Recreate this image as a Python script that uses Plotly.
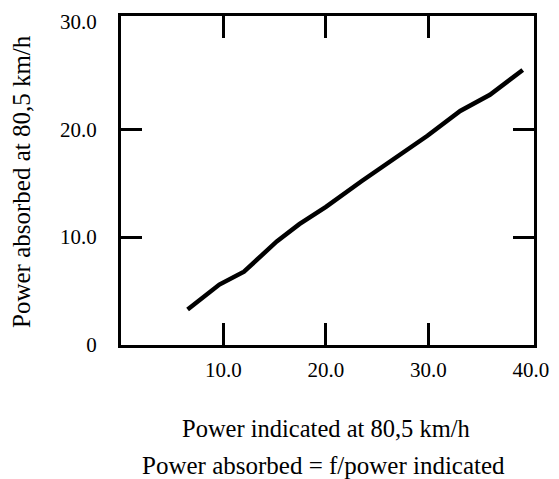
import plotly.graph_objects as go

# Data
power_indicated = [6.5, 9.6, 12.0, 15.2, 17.4, 20.0, 23.5, 26.7, 29.9, 33.1, 36.0, 39.2]
power_absorbed = [3.3, 5.6, 6.8, 9.6, 11.2, 12.8, 15.2, 17.3, 19.4, 21.7, 23.2, 25.5]

x_label_vals = [10, 20, 30, 40]
x_label_text = ["10.0", "20.0", "30.0", "40.0"]
y_label_vals = [0, 10, 20, 30]
y_label_text = ["0", "10.0", "20.0", "30.0"]
x_tick_vals = [10, 20, 30]
y_tick_vals = [10, 20]

x_title = "Power indicated at 80,5 km/h"
y_title = "Power absorbed at 80,5 km/h"
caption = "Power absorbed = f/power indicated"

FONT = "Liberation Serif"
XR = [0, 40.3]
YR = [0, 30.5]

fig = go.Figure()
fig.add_trace(go.Scatter(
    x=power_indicated, y=power_absorbed, mode="lines",
    line=dict(color="black", width=4.5), showlegend=False, hoverinfo="skip",
))
# invisible trace on the tick-only axes
fig.add_trace(go.Scatter(x=[None], y=[None], xaxis="x2", yaxis="y2",
                         showlegend=False, hoverinfo="skip"))

tick_font = dict(family=FONT, size=21, color="black")
xtitle_font = dict(family=FONT, size=24.5, color="black")
ytitle_font = dict(family=FONT, size=25, color="black")
caption_font = dict(family=FONT, size=25, color="black")

fig.update_layout(
    width=559, height=479,
    margin=dict(l=121, r=18, t=10, b=134),
    paper_bgcolor="white", plot_bgcolor="white",
    font=tick_font,
    xaxis=dict(
        range=XR, tickvals=x_label_vals, ticktext=x_label_text,
        ticks="", showgrid=False, zeroline=False,
        showline=True, linecolor="black", linewidth=3, mirror=True,
        ticklabelstandoff=4, tickfont=tick_font,
    ),
    yaxis=dict(
        range=YR, tickvals=y_label_vals, ticktext=y_label_text,
        ticks="", showgrid=False, zeroline=False,
        showline=True, linecolor="black", linewidth=3, mirror=True,
        ticklabelstandoff=17, tickfont=tick_font,
    ),
    xaxis2=dict(
        range=XR, overlaying="x", tickvals=x_tick_vals, showticklabels=False,
        ticks="inside", ticklen=22, tickwidth=3, tickcolor="black", mirror="ticks",
        showline=False, showgrid=False, zeroline=False, anchor="y2",
    ),
    yaxis2=dict(
        range=YR, overlaying="y", tickvals=y_tick_vals, showticklabels=False,
        ticks="inside", ticklen=21, tickwidth=3, tickcolor="black", mirror="ticks",
        showline=False, showgrid=False, zeroline=False, anchor="x2",
    ),
    annotations=[
        dict(text=x_title, xref="paper", yref="paper", x=0.5, y=0,
             xshift=-1.5, yshift=-83, showarrow=False, yanchor="middle", font=xtitle_font),
        dict(text=caption, xref="paper", yref="paper", x=0.5, y=0,
             xshift=-4, yshift=-120, showarrow=False, yanchor="middle", font=caption_font),
        dict(text=y_title, xref="paper", yref="paper", x=0, y=0.5,
             xshift=-100, yshift=-1.5, textangle=-90, showarrow=False,
             xanchor="center", yanchor="middle", font=ytitle_font),
    ],
)

fig.write_html(
    "out.html",
    config={"displayModeBar": False},
    post_script="document.body.style.margin='0';document.body.style.overflow='hidden';",
)
